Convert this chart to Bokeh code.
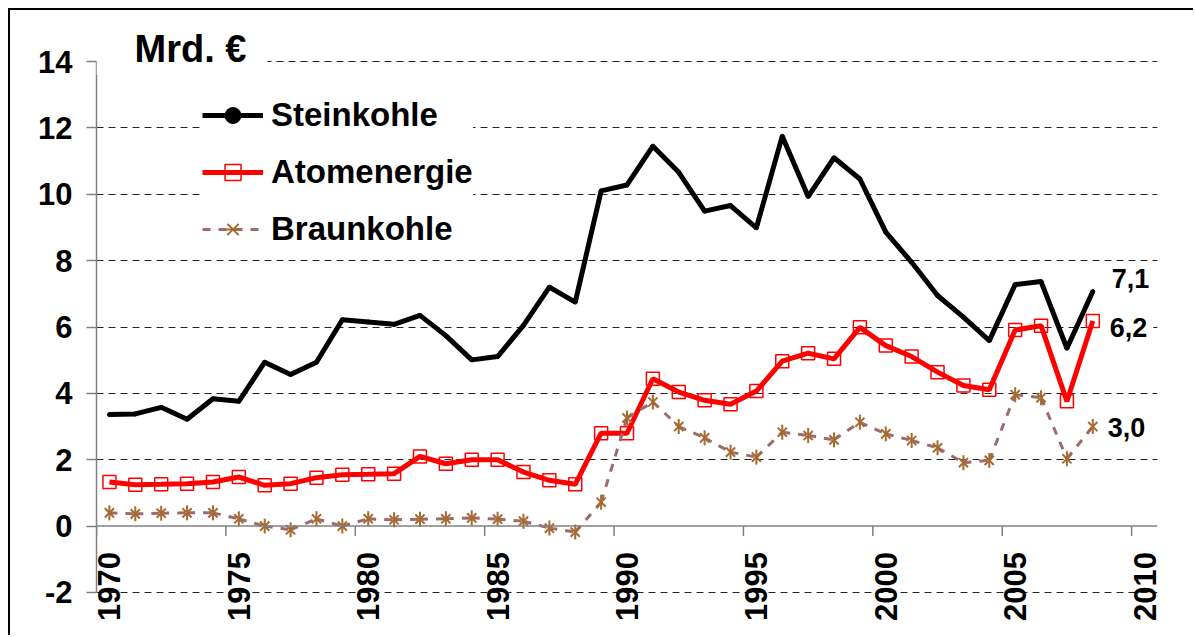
import math
from bokeh.plotting import figure
from bokeh.models import Range1d, FixedTicker, Span, Label, Legend, LegendItem
from bokeh.core.properties import value
from bokeh.embed import file_html
from bokeh.resources import INLINE

# ---------------- data ----------------
years = list(range(1970, 2009))
steinkohle = [3.36, 3.38, 3.58, 3.22, 3.84, 3.76, 4.94, 4.57, 4.94, 6.22,
              6.15, 6.08, 6.35, 5.74, 5.01, 5.11, 6.05, 7.20, 6.75, 10.10,
              10.28, 11.45, 10.66, 9.49, 9.66, 8.99, 11.75, 9.93, 11.10, 10.46,
              8.86, 7.95, 6.95, 6.30, 5.59, 7.28, 7.37, 5.36, 7.07]
atomenergie = [1.33, 1.25, 1.26, 1.28, 1.33, 1.48, 1.23, 1.28, 1.46, 1.55,
               1.56, 1.58, 2.10, 1.88, 2.00, 2.00, 1.63, 1.38, 1.26, 2.80,
               2.80, 4.44, 4.04, 3.79, 3.67, 4.07, 4.97, 5.21, 5.04, 5.99,
               5.44, 5.11, 4.64, 4.24, 4.11, 5.91, 6.04, 3.76, 6.18]
braunkohle = [0.40, 0.37, 0.39, 0.40, 0.40, 0.22, 0.00, -0.11, 0.22, 0.00,
              0.22, 0.19, 0.21, 0.22, 0.25, 0.21, 0.15, -0.06, -0.18, 0.72,
              3.26, 3.74, 3.00, 2.66, 2.23, 2.08, 2.83, 2.73, 2.60, 3.13,
              2.78, 2.58, 2.36, 1.91, 1.98, 3.96, 3.87, 2.03, 3.00]
series_names = ["Steinkohle", "Atomenergie", "Braunkohle"]
end_labels = ["7,1", "6,2", "3,0"]
unit_label = "Mrd. €"
x_tick_years = [1970, 1975, 1980, 1985, 1990, 1995, 2000, 2005, 2010]
x_tick_labels = [str(t) for t in x_tick_years]
y_ticks = [-2, 0, 2, 4, 6, 8, 10, 12, 14]
y_tick_labels = ["-2", "0", "2", "4", "6", "8", "10", "12", "14"]

FONT = "Liberation Sans"
AXIS_GREY = "#808080"
BRAUN_LINE = "#9c6b6b"
BRAUN_MARK = "#a66a2e"

# each year is a category; its point sits in the middle of the category
xs = [y + 0.5 for y in years]

p = figure(width=1185, height=627,
           x_range=Range1d(1970, 2011), y_range=Range1d(-2.874, 15.537),
           output_backend="svg", toolbar_location=None, x_axis_location=None,
           min_border_left=86, min_border_right=38, min_border_top=0,
           min_border_bottom=16, background_fill_color="white",
           border_fill_color="white", outline_line_color=None)
p.margin = (10, 0, 0, 10)
p.styles = {"box-shadow": "-2px -2px 0 0 black"}

# y axis
p.yaxis.ticker = FixedTicker(ticks=y_ticks)
p.yaxis.major_label_overrides = {t: l for t, l in zip(y_ticks, y_tick_labels)}
p.yaxis.bounds = (-2, 14)
p.yaxis.axis_line_color = AXIS_GREY
p.yaxis.axis_line_width = 1.5
p.yaxis.major_tick_line_color = AXIS_GREY
p.yaxis.major_tick_line_width = 1.5
p.yaxis.major_tick_out = 10
p.yaxis.major_tick_in = 0
p.yaxis.minor_tick_line_color = None
p.yaxis.major_label_standoff = 14
p.yaxis.major_label_text_font = FONT
p.yaxis.major_label_text_font_style = "bold"
p.yaxis.major_label_text_font_size = "31px"
p.yaxis.major_label_text_color = "black"

# grid
p.xgrid.visible = False
p.ygrid.ticker = FixedTicker(ticks=[t for t in y_ticks if t != 0])
p.ygrid.grid_line_color = "#222222"
p.ygrid.grid_line_dash = "7 5"
p.ygrid.grid_line_width = 1

# x axis drawn at value 0 (inside the plot)
p.add_layout(Span(location=0, dimension="width", line_color=AXIS_GREY, line_width=1.5))
n = len(x_tick_years)
p.segment(x0=x_tick_years, y0=[0] * n, x1=x_tick_years, y1=[-0.3] * n,
          line_color=AXIS_GREY, line_width=1.5)
p.text(x=[t + 0.5 for t in x_tick_years], y=[0] * n, text=x_tick_labels,
       angle=math.pi / 2, text_align="right", text_baseline="middle",
       y_offset=26, text_font=value(FONT), text_font_style="bold",
       text_font_size="31px", text_color="black")

# series
r_s = p.line(xs, steinkohle, line_color="black", line_width=5)
m_s = p.scatter(xs, steinkohle, marker="circle", size=4, color="black")
r_a = p.line(xs, atomenergie, line_color="#ff0000", line_width=5)
m_a = p.scatter(xs, atomenergie, marker="square", size=13, line_color="#ff0000",
                fill_color=None, line_width=1.5)
r_b = p.segment(x0=xs[:-1], y0=braunkohle[:-1], x1=xs[1:], y1=braunkohle[1:],
                line_color=BRAUN_LINE, line_width=3, line_dash="8 8")
# six-armed star marker: an X plus a vertical bar
m_b1 = p.scatter(xs, braunkohle, marker="x", size=13, line_color=BRAUN_MARK,
                 line_width=2)
m_b2 = p.scatter(xs, braunkohle, marker="dash", angle=math.pi / 2, size=15,
                 line_color=BRAUN_MARK, line_width=2)

legend = Legend(items=[LegendItem(label=series_names[0], renderers=[r_s, m_s]),
                       LegendItem(label=series_names[1], renderers=[r_a, m_a]),
                       LegendItem(label=series_names[2], renderers=[r_b, m_b1, m_b2])],
                location=(106, 372), glyph_width=61, glyph_height=40,
                label_standoff=8, spacing=17, padding=5, margin=0,
                border_line_color=None, background_fill_color="white",
                background_fill_alpha=1.0, label_text_font=FONT,
                label_text_font_style="bold", label_text_font_size="33px",
                label_text_color="black")
p.add_layout(legend)

# unit label (white box starts at the y axis)
p.add_layout(Label(x=1970.0, y=14.38, text=unit_label, text_font=FONT,
                   text_font_style="bold", text_font_size="38px",
                   text_color="black", text_baseline="middle", text_align="left",
                   background_fill_color="white",
                   padding=dict(left=38, right=21, top=5, bottom=5)))

# end value labels
last_vals = [steinkohle[-1], atomenergie[-1], braunkohle[-1]]
x_offs = [13, 11, 9]
y_offs = [13, -6, -1]
for txt, v, xo, yo in zip(end_labels, last_vals, x_offs, y_offs):
    p.add_layout(Label(x=xs[-1], y=v, text=txt, x_offset=xo, y_offset=yo,
                       text_font=FONT, text_font_style="bold",
                       text_font_size="27px", text_color="black",
                       text_baseline="middle", text_align="left",
                       background_fill_color="white", padding=6))

open("out.html", "w").write(file_html(p, INLINE))
